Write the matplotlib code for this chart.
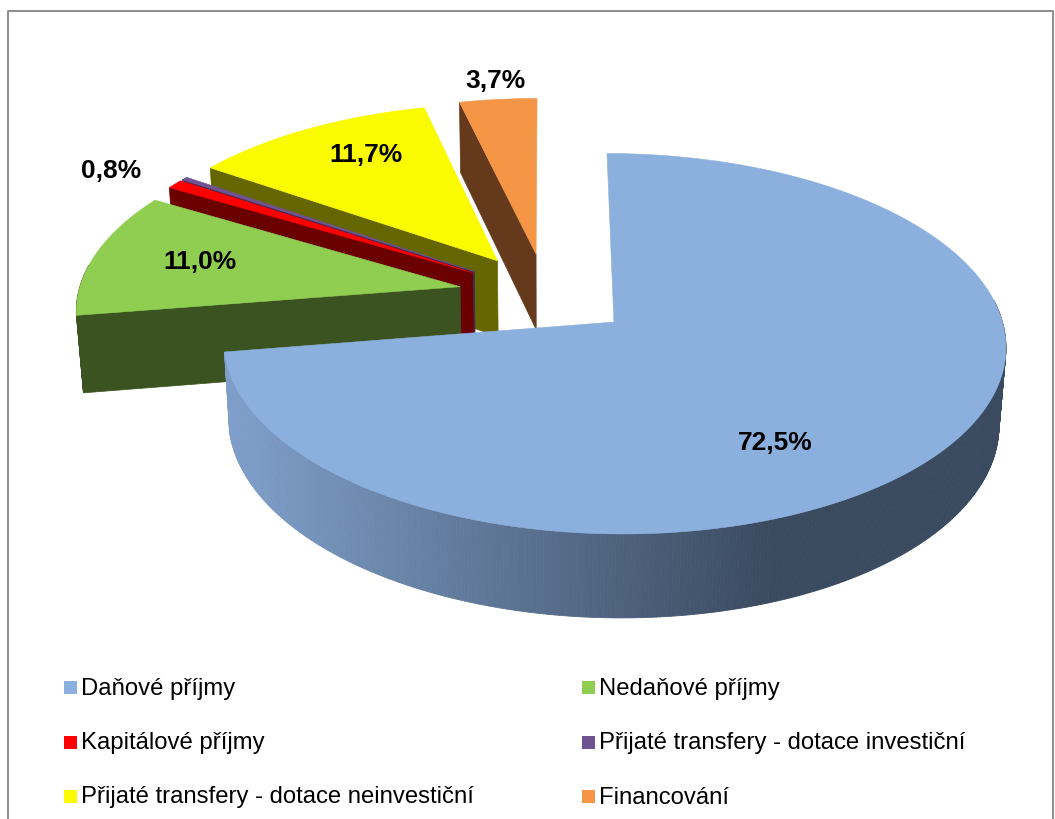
import numpy as np
import matplotlib
matplotlib.use("Agg")
import matplotlib.pyplot as plt
from matplotlib.colors import LinearSegmentedColormap

plt.rcParams['font.family'] = ['Liberation Sans', 'DejaVu Sans']

categories = ["Daňové příjmy", "Nedaňové příjmy", "Kapitálové příjmy",
              "Přijaté transfery - dotace investiční",
              "Přijaté transfery - dotace neinvestiční", "Financování"]
shares = [72.5, 11.0, 0.8, 0.3, 11.7, 3.7]
shown = ["72,5%", "11,0%", "0,8%", None, "11,7%", "3,7%"]

top_colors = ['#8cb0de', '#8fce50', '#ff0000', '#6f5391', '#fafa00', '#f59646']
wall_colors = [None, '#3b5320', '#6b0000', '#3b2d55', '#666600', '#653a1c']

# label centres in pixels
label_xy = [(775, 443), (200, 262), (111, 171), None, (366, 155), (495, 81)]

# 3d pie projection settings
cx, cy = 546, 294.5
rx, ry = 382, 181.5
thick = 78
persp = 0.112
conv = 0.015
explode = 0.23

wall_grad = LinearSegmentedColormap.from_list("wall", ['#7f9fca', '#3a4a5f'])


def project(x, y, low):
    # low is 0 on the top face, 1 on the bottom face
    w = 1 + persp * y + conv * low
    return cx + rx * x / w, cy + (-ry * y + thick * low) / w


def slice_shape(a0, a1):
    mid = (a0 + a1) / 2
    ox, oy = explode * np.sin(mid), explode * np.cos(mid)
    ang = np.linspace(a0, a1, max(int(np.degrees(a1 - a0)) * 2, 4))
    return ox, oy, ang


fig = plt.figure(figsize=(10.55, 8.19), dpi=100)
ax = fig.add_axes([0, 0, 1, 1])
ax.set_xlim(0, 1055)
ax.set_ylim(819, 0)
ax.axis('off')

# chart frame
ax.plot([8, 8, 1053, 1053], [819, 11, 11, 819], color='#8c8c8c', lw=1.4)

edges = np.radians(np.concatenate([[0], np.cumsum(shares)]) * 3.6)
# back slices first, the big one last
order = [5, 4, 3, 2, 1, 0]
for i in order:
    a0, a1 = edges[i], edges[i + 1]
    ox, oy, ang = slice_shape(a0, a1)
    ex, ey = ox + np.sin(ang), oy + np.cos(ang)

    # outer wall, only where it faces the viewer
    for j in range(len(ang) - 1):
        if np.cos(ang[j]) > 0.12:
            continue
        x0, y0 = project(ex[j], ey[j], 0)
        x1, y1 = project(ex[j + 1], ey[j + 1], 0)
        x2, y2 = project(ex[j + 1], ey[j + 1], 1)
        x3, y3 = project(ex[j], ey[j], 1)
        if wall_colors[i] is None:
            col = wall_grad(np.clip(((x0 + x1) / 2 - 228) / (775 - 228), 0, 1))
        else:
            col = wall_colors[i]
        ax.fill([x0, x1, x2, x3], [y0, y1, y2, y3], color=col, lw=0.6, zorder=1)

    # cut wall on the slice's first edge
    if wall_colors[i] is not None:
        p = [project(ox, oy, 0), project(ex[0], ey[0], 0),
             project(ex[0], ey[0], 1), project(ox, oy, 1)]
        ax.fill([q[0] for q in p], [q[1] for q in p], color=wall_colors[i], lw=0.5)

    # top face
    tx, ty = project(np.append(ox, ex), np.append(oy, ey), 0)
    ax.fill(tx, ty, color=top_colors[i], lw=0.4)

for txt, xy in zip(shown, label_xy):
    if txt is not None:
        ax.text(xy[0], xy[1], txt, fontsize=19, fontweight='bold', color='black',
                ha='center', va='center')

# legend
leg_x = [64, 582]
leg_y = [687, 742, 796]
for n, name in enumerate(categories):
    lx = leg_x[n % 2]
    ly = leg_y[n // 2]
    ax.fill([lx, lx + 13, lx + 13, lx], [ly - 6.5, ly - 6.5, ly + 6.5, ly + 6.5],
            color=top_colors[n], lw=0)
    ax.text(lx + 17, ly + 7.5, name, fontsize=17.2, color='black', ha='left', va='baseline')

fig.savefig("out.png", dpi=100)
